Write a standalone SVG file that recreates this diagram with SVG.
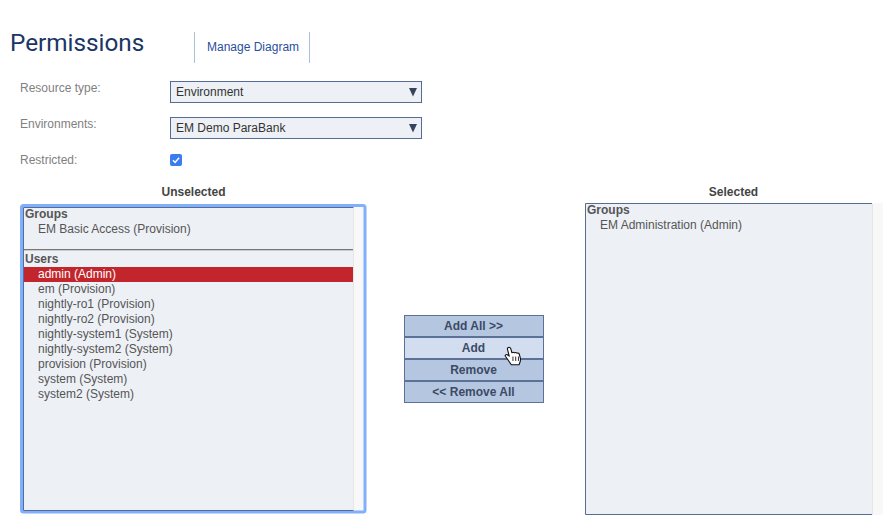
<svg xmlns="http://www.w3.org/2000/svg" width="889" height="530" viewBox="0 0 889 530">
<style>
text{font-family:"Liberation Sans",Arial,sans-serif;font-size:12px;fill:#555}
.lbl{fill:#7f7f7f}
.item{fill:#555}
.hd{font-weight:bold;fill:#555}
.cap{font-weight:bold;fill:#444;text-anchor:middle}
.sel{fill:#333}
.btn{fill:#b5c7e0;stroke:#5b7198;stroke-width:1}
.bt{font-weight:bold;fill:#3c4a66;text-anchor:middle}
.field{fill:#edf0f5;stroke:#566c96;stroke-width:1}
.arrow{fill:#37435c}
.sep{stroke:#a9c0dd;stroke-width:1}
</style>
<rect width="889" height="530" fill="#fff"/>
<g id="title"><text x="10" y="51" style="font-family:Roboto,sans-serif;font-size:24.300px;fill:#1b3564">Permissions</text></g>
<g id="manage-diagram">
<line class="sep" x1="194.500" y1="32" x2="194.500" y2="63"/>
<line class="sep" x1="309.500" y1="32" x2="309.500" y2="63"/>
<text x="207" y="51" style="fill:#2a4f9c">Manage Diagram</text>
</g>
<g id="resource-type">
<text class="lbl" x="20" y="92">Resource type:</text>
<rect class="field" x="170.500" y="81.500" width="251" height="21"/>
<text class="sel" x="176" y="96">Environment</text>
<path class="arrow" d="M409 88h8l-4 8.500z"/>
</g>
<g id="environments">
<text class="lbl" x="20" y="128">Environments:</text>
<rect class="field" x="170.500" y="117.500" width="251" height="21"/>
<text class="sel" x="176" y="132">EM Demo ParaBank</text>
<path class="arrow" d="M409 124h8l-4 8.500z"/>
</g>
<g id="restricted">
<text class="lbl" x="20" y="164">Restricted:</text>
<rect x="170" y="154" width="12" height="12" rx="2" fill="#3b7cf0"/>
<path d="M173 160.200l2.100 2.200 4-4.600" fill="none" stroke="#fff" stroke-width="1.500"/>
</g>
<g id="unselected">
<text class="cap" x="193.500" y="196">Unselected</text>
<rect x="21.500" y="205.500" width="343.500" height="306.500" rx="2" fill="#f8f8f8" stroke="#80b0fb" stroke-width="3"/>
<rect x="23.500" y="207.500" width="330" height="303.500" fill="#edf0f5"/>
<path d="M353.500 207.500H23.500V510.500H353.500" fill="none" stroke="#566c96" stroke-width="1"/>
<line x1="353.500" y1="208" x2="353.500" y2="510" stroke="#e6e6e6"/>
<text class="hd" x="25" y="218">Groups</text>
<text class="item" x="38" y="233">EM Basic Access (Provision)</text>
<line x1="24" y1="249.500" x2="353" y2="249.500" stroke="#777"/>
<line x1="24" y1="250.500" x2="353" y2="250.500" stroke="#ccc"/>
<text class="hd" x="25" y="263">Users</text>
<rect x="24" y="267" width="329" height="15" fill="#c2252b"/>
<text x="38" y="278" style="fill:#fff">admin (Admin)</text>
<text class="item" x="38" y="293">em (Provision)</text>
<text class="item" x="38" y="308">nightly-ro1 (Provision)</text>
<text class="item" x="38" y="323">nightly-ro2 (Provision)</text>
<text class="item" x="38" y="338">nightly-system1 (System)</text>
<text class="item" x="38" y="353">nightly-system2 (System)</text>
<text class="item" x="38" y="368">provision (Provision)</text>
<text class="item" x="38" y="383">system (System)</text>
<text class="item" x="38" y="398">system2 (System)</text>
</g>
<g id="buttons">
<rect class="btn" x="404.500" y="315.500" width="139" height="21"/>
<text class="bt" x="473.500" y="330">Add All &gt;&gt;</text>
<rect class="btn" x="404.500" y="337.500" width="139" height="21" style="fill:#d2ddef"/>
<text class="bt" x="473.500" y="352">Add</text>
<rect class="btn" x="404.500" y="359.500" width="139" height="21"/>
<text class="bt" x="473.500" y="374">Remove</text>
<rect class="btn" x="404.500" y="381.500" width="139" height="21"/>
<text class="bt" x="473.500" y="396">&lt;&lt; Remove All</text>
</g>
<g id="cursor" transform="translate(513.500 356) scale(1.100) translate(-514.500 -356)">
<path d="M509.500 348.500c1-.8 2.300-.3 2.600 1l.9 3.500c.8-.5 1.800-.5 2.400.1.700-.4 1.700-.3 2.300.3.800-.3 1.700 0 2 .8l1 3.500c.4 1.800.1 3.400-.7 5l-.5 1.300h-7l-3.400-5-2-2.800c-.5-.9.700-2 1.800-1.300l1.700 1.200-1.600-6.300c-.2-.6 0-1 .5-1.300z" fill="#fff" stroke="#111" stroke-width="1" stroke-linejoin="round"/>
<path d="M514 356.500v4M516.500 356.500v4M519 356.500v4" stroke="#111" stroke-width=".8" fill="none"/>
</g>
<g id="selected">
<text class="cap" x="733.500" y="196">Selected</text>
<rect x="872" y="203" width="11" height="312" fill="#f8f8f8"/>
<rect x="585.500" y="203.500" width="286.500" height="311" fill="#edf0f5"/>
<path d="M872 203.500H585.500V514.500H872" fill="none" stroke="#566c96" stroke-width="1"/>
<line x1="872.500" y1="204" x2="872.500" y2="515" stroke="#e6e6e6"/>
<text class="hd" x="587" y="214">Groups</text>
<text class="item" x="600" y="229">EM Administration (Admin)</text>
</g>
</svg>
